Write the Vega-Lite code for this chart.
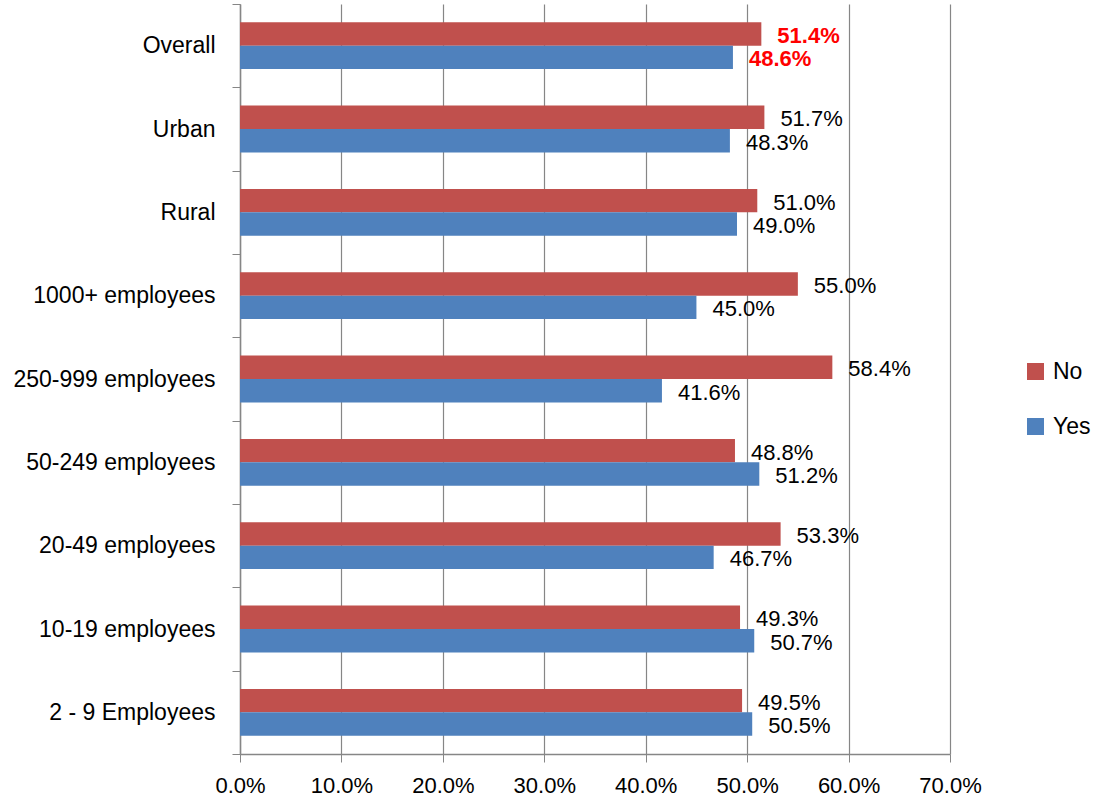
{
  "$schema": "https://vega.github.io/schema/vega-lite/v6.json",
  "width": 710,
  "height": 750,
  "autosize": {"type": "none"},
  "padding": {"left": 240, "top": 4, "right": 145, "bottom": 50},
  "background": "white",
  "config": {
    "view": {"stroke": null},
    "font": "Liberation Sans",
    "axis": {"labelFont": "Liberation Sans", "labelColor": "black"}
  },
  "data": {
    "values": [
      {"category": "Overall", "series": "No", "value": 0.514},
      {"category": "Overall", "series": "Yes", "value": 0.486},
      {"category": "Urban", "series": "No", "value": 0.517},
      {"category": "Urban", "series": "Yes", "value": 0.483},
      {"category": "Rural", "series": "No", "value": 0.510},
      {"category": "Rural", "series": "Yes", "value": 0.490},
      {"category": "1000+ employees", "series": "No", "value": 0.550},
      {"category": "1000+ employees", "series": "Yes", "value": 0.450},
      {"category": "250-999 employees", "series": "No", "value": 0.584},
      {"category": "250-999 employees", "series": "Yes", "value": 0.416},
      {"category": "50-249 employees", "series": "No", "value": 0.488},
      {"category": "50-249 employees", "series": "Yes", "value": 0.512},
      {"category": "20-49 employees", "series": "No", "value": 0.533},
      {"category": "20-49 employees", "series": "Yes", "value": 0.467},
      {"category": "10-19 employees", "series": "No", "value": 0.493},
      {"category": "10-19 employees", "series": "Yes", "value": 0.507},
      {"category": "2 - 9 Employees", "series": "No", "value": 0.495},
      {"category": "2 - 9 Employees", "series": "Yes", "value": 0.505}
    ]
  },
  "encoding": {
    "y": {
      "field": "category",
      "type": "nominal",
      "sort": ["Overall", "Urban", "Rural", "1000+ employees", "250-999 employees", "50-249 employees", "20-49 employees", "10-19 employees", "2 - 9 Employees"],
      "scale": {"paddingInner": 0, "paddingOuter": 0},
      "axis": {
        "title": null,
        "tickBand": "extent",
        "grid": false,
        "domainColor": "#868686",
        "domainWidth": 1.5,
        "tickColor": "#868686",
        "tickSize": 8,
        "labelFontSize": 23,
        "labelPadding": 17,
        "labelLimit": 240
      }
    },
    "yOffset": {"field": "series", "type": "nominal", "sort": ["No", "Yes"], "scale": {"paddingInner": 0, "paddingOuter": 0.78}},
    "x": {
      "field": "value",
      "type": "quantitative",
      "scale": {"domain": [0, 0.7], "nice": false},
      "axis": {
        "title": null,
        "format": ".1%",
        "values": [0, 0.1, 0.2, 0.3, 0.4, 0.5, 0.6, 0.7],
        "grid": true,
        "gridColor": "#868686",
        "gridWidth": 1.2,
        "domainColor": "#868686",
        "domainWidth": 1.5,
        "tickColor": "#868686",
        "tickSize": 8,
        "labelFontSize": 22,
        "labelPadding": 13,
        "labelFlush": false
      }
    }
  },
  "layer": [
    {
      "mark": {"type": "bar"},
      "encoding": {
        "color": {
          "field": "series",
          "type": "nominal",
          "scale": {"domain": ["No", "Yes"], "range": ["#C0504D", "#4F81BD"]},
          "legend": {
            "title": null,
            "orient": "none",
            "legendX": 784,
            "legendY": 356,
            "padding": 0,
            "symbolType": "square",
            "symbolSize": 289,
            "symbolStrokeWidth": 0,
            "labelFontSize": 23,
            "labelFont": "Liberation Sans",
            "labelColor": "black",
            "labelOffset": 6,
            "rowPadding": 31
          }
        }
      }
    },
    {
      "transform": [{"filter": "datum.category !== 'Overall'"}],
      "mark": {"type": "text", "align": "left", "baseline": "middle", "dx": 16, "dy": 2, "fontSize": 22, "color": "black"},
      "encoding": {
        "text": {"field": "value", "type": "quantitative", "format": ".1%"}
      }
    },
    {
      "transform": [{"filter": "datum.category === 'Overall'"}],
      "mark": {"type": "text", "align": "left", "baseline": "middle", "dx": 16, "dy": 2, "fontSize": 22, "fontWeight": "bold", "color": "#FF0000"},
      "encoding": {
        "text": {"field": "value", "type": "quantitative", "format": ".1%"}
      }
    }
  ]
}
